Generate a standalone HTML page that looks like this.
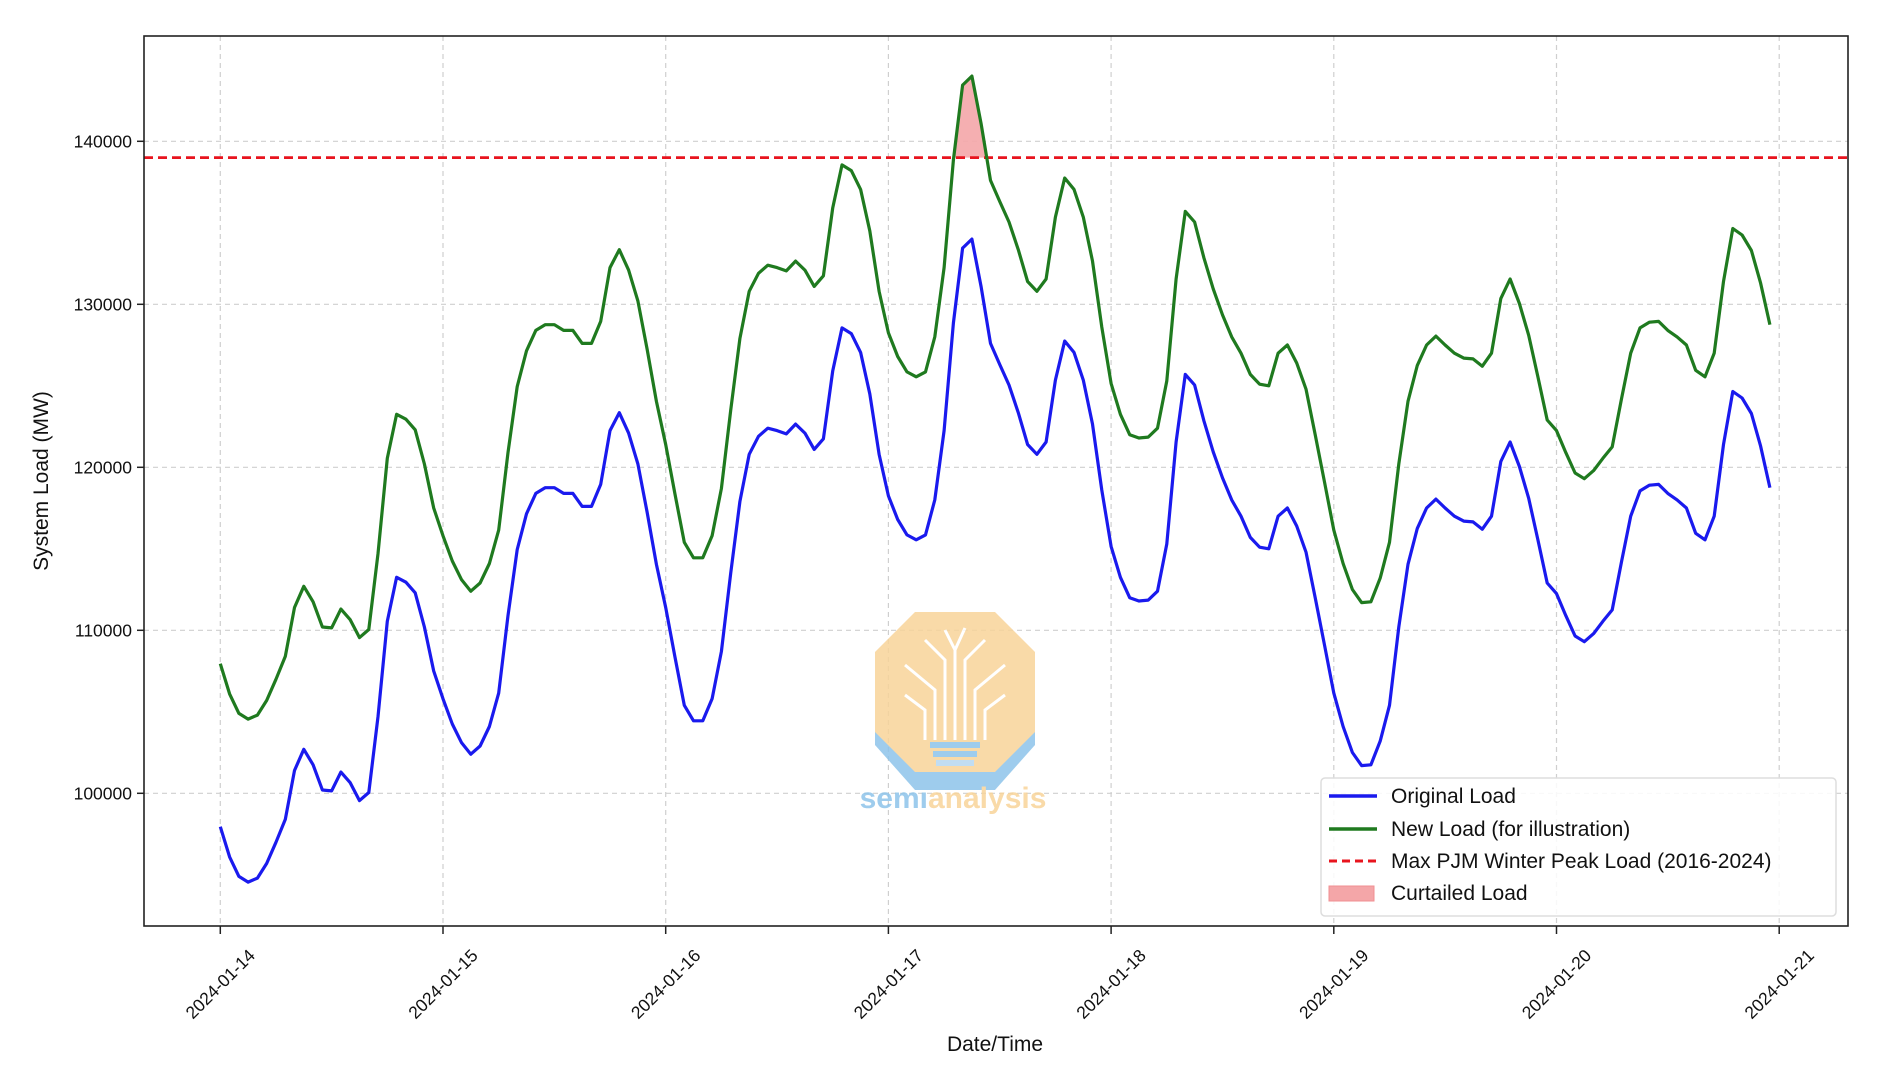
<!DOCTYPE html>
<html><head><meta charset="utf-8"><style>
html,body{margin:0;padding:0;background:#fff;}
svg{display:block;font-family:"Liberation Sans","DejaVu Sans",sans-serif;}
</style></head><body>
<svg id="chart" width="1877" height="1086" viewBox="0 0 1877 1086" xmlns="http://www.w3.org/2000/svg">
<rect width="1877" height="1086" fill="#fff"/>
<g id="grid"></g>
<g id="watermark" opacity="0.85">
  <polygon points="915,620 995,620 1035,665 1035,745 995,790 915,790 875,745 875,665" fill="#8ec4ea"/>
  <polygon points="915,612 995,612 1035,652 1035,732 995,772 915,772 875,732 875,652" fill="#f8d49a"/>
  <g stroke="#fff" stroke-width="3" fill="none">
    <path d="M955,740 V650 M945,740 V660 L925,640 M965,740 V660 L985,640 M935,740 V690 L905,665 M975,740 V690 L1005,665 M925,740 V710 L905,695 M985,740 V710 L1005,695 M955,650 L945,630 M955,650 L965,628"/>
  </g>
  <rect x="930" y="742" width="50" height="6" fill="#8ec4ea"/>
  <rect x="933" y="751" width="44" height="6" fill="#8ec4ea"/>
  <rect x="936" y="760" width="38" height="6" fill="#b7d8f0"/>
  <text x="953" y="808" text-anchor="middle" font-size="30" font-weight="bold"><tspan fill="#8ec4ea">semi</tspan><tspan fill="#f8d49a">analysis</tspan></text>
</g>
<g id="plot"></g>
<rect x="144" y="36" width="1704" height="890" fill="none" stroke="#222" stroke-width="1.6"/>
<g id="axes"></g>
<text x="995" y="1051" text-anchor="middle" font-size="21" fill="#111">Date/Time</text>
<text transform="translate(48,481) rotate(-90)" text-anchor="middle" font-size="21" fill="#111">System Load (MW)</text>
<g>
  <rect x="1321" y="778" width="515" height="138" rx="4" fill="#fff" fill-opacity="0.85" stroke="#ddd" stroke-width="1.5"/>
  <line x1="1329" y1="796" x2="1377" y2="796" stroke="#1a1aee" stroke-width="3.5"/>
  <text x="1391" y="803" font-size="21" fill="#111">Original Load</text>
  <line x1="1329" y1="829" x2="1377" y2="829" stroke="#1f7a1f" stroke-width="3.5"/>
  <text x="1391" y="836" font-size="21" fill="#111">New Load (for illustration)</text>
  <line x1="1329" y1="861" x2="1377" y2="861" stroke="#e8141e" stroke-width="3" stroke-dasharray="8,5"/>
  <text x="1391" y="868" font-size="21" fill="#111">Max PJM Winter Peak Load (2016-2024)</text>
  <rect x="1329" y="886" width="45" height="15" fill="#f4a6a8" stroke="#f08f92"/>
  <text x="1391" y="900" font-size="21" fill="#111">Curtailed Load</text>
</g>
</svg>
<script>
const dayLabels = ["2024-01-14","2024-01-15","2024-01-16","2024-01-17","2024-01-18","2024-01-19","2024-01-20","2024-01-21"];
const yTicks = [100000,110000,120000,130000,140000];
const maxPeak = 139000;
const originalLoad = [
97950,96100,94900,94550,94800,95700,97000,98400,101400,102700,101750,100200,100150,101300,100650,99550,100050,104700,110550,113250,112950,112300,110200,107500,
105800,104250,103100,102400,102900,104100,106150,110900,114950,117150,118400,118750,118750,118400,118400,117600,117600,118950,122250,123350,122100,120200,117250,114050,
111400,108350,105400,104450,104450,105800,108700,113500,117900,120800,121900,122400,122250,122050,122650,122100,121100,121750,125900,128550,128200,127050,124500,120800,
118250,116800,115850,115550,115850,118000,122250,128850,133450,134000,131050,127600,126300,125050,123350,121400,120800,121550,125350,127750,127050,125350,122650,118600,
115150,113250,112000,111800,111850,112400,115300,121550,125700,125050,122850,120950,119350,118000,117000,115700,115100,115000,117000,117500,116400,114800,112000,109100,
106150,104100,102500,101700,101750,103200,105400,110200,114050,116250,117500,118050,117500,117000,116700,116650,116200,117000,120350,121550,120050,118100,115550,112900,
112250,110900,109650,109300,109800,110550,111250,114200,117000,118550,118900,118950,118400,118000,117500,115950,115550,117000,121400,124650,124250,123300,121300,118750];
const newLoad = [
107950,106100,104900,104550,104800,105700,107000,108400,111400,112700,111750,110200,110150,111300,110650,109550,110050,114700,120550,123250,122950,122300,120200,117500,
115800,114250,113100,112400,112900,114100,116150,120900,124950,127150,128400,128750,128750,128400,128400,127600,127600,128950,132250,133350,132100,130200,127250,124050,
121400,118350,115400,114450,114450,115800,118700,123500,127900,130800,131900,132400,132250,132050,132650,132100,131100,131750,135900,138550,138200,137050,134500,130800,
128250,126800,125850,125550,125850,128000,132250,138850,143450,144000,141050,137600,136300,135050,133350,131400,130800,131550,135350,137750,137050,135350,132650,128600,
125150,123250,122000,121800,121850,122400,125300,131550,135700,135050,132850,130950,129350,128000,127000,125700,125100,125000,127000,127500,126400,124800,122000,119100,
116150,114100,112500,111700,111750,113200,115400,120200,124050,126250,127500,128050,127500,127000,126700,126650,126200,127000,130350,131550,130050,128100,125550,122900,
122250,120900,119650,119300,119800,120550,121250,124200,127000,128550,128900,128950,128400,128000,127500,125950,125550,127000,131400,134650,134250,133300,131300,128750];

const NS = "http://www.w3.org/2000/svg";
const X0 = 220.3, DAY = 222.7;
function xHour(h){ return X0 + h * DAY / 24; }
function xDay(d){ return X0 + d * DAY; }
function yVal(v){ return 141.3 + (140000 - v) * 0.0163; }
function mk(tag, attrs, parent){
  const e = document.createElementNS(NS, tag);
  for (const k in attrs) e.setAttribute(k, attrs[k]);
  parent.appendChild(e); return e;
}
const grid = document.getElementById('grid');
const plot = document.getElementById('plot');
const axes = document.getElementById('axes');

dayLabels.forEach((lab, i) => {
  const x = xDay(i);
  const g = mk('line', {x1:x, y1:36, x2:x, y2:926, stroke:'#cfcfcf', 'stroke-width':1.2, 'stroke-dasharray':'5,4'}, grid);
  
  
  const t = mk('line', {x1:x, y1:926, x2:x, y2:934, stroke:'#222', 'stroke-width':1.5}, axes);
  
  
  const cy = 984;
  const tx = mk('text', {x:x, y:cy+6, 'font-size':17.5, fill:'#111', 'text-anchor':'middle', transform:`rotate(-45 ${x} ${cy})`}, axes);
  tx.textContent = lab;
  
  
});
yTicks.forEach(v => {
  const y = yVal(v);
  const g = mk('line', {x1:144, y1:y, x2:1848, y2:y, stroke:'#cfcfcf', 'stroke-width':1.2, 'stroke-dasharray':'5,4'}, grid);
  
  
  const t = mk('line', {x1:137, y1:y, x2:144, y2:y, stroke:'#222', 'stroke-width':1.5}, axes);
  
  
  const tx = mk('text', {x:132, y:y+6, 'font-size':17.5, fill:'#111', 'text-anchor':'end'}, axes);
  tx.textContent = String(v);
  
  
});

// curtailed fill
let segs = [], cur = null;
for (let i = 0; i < newLoad.length; i++){
  const v = newLoad[i];
  if (v > maxPeak){
    if (!cur){
      cur = [];
      if (i > 0){ const p = newLoad[i-1]; const f = (maxPeak - p)/(v - p); cur.push([xHour(i-1+f), yVal(maxPeak)]); }
    }
    cur.push([xHour(i), yVal(v)]);
  } else if (cur){
    const p = newLoad[i-1]; const f = (maxPeak - p)/(v - p);
    cur.push([xHour(i-1+f), yVal(maxPeak)]);
    segs.push(cur); cur = null;
  }
}
if (cur) segs.push(cur);
segs.forEach(s => {
  const pts = s.map(p => p.join(',')).join(' ');
  const f = mk('polygon', {points:pts, fill:'#f4a6a8', 'fill-opacity':0.9}, plot);
  
  
});

const ml = mk('line', {x1:144, y1:yVal(maxPeak), x2:1848, y2:yVal(maxPeak), stroke:'#e8141e', 'stroke-width':2.8, 'stroke-dasharray':'9,5'}, plot);



function line(data, color, name){
  const d = data.map((v,i) => (i ? 'L' : 'M') + xHour(i).toFixed(1) + ',' + yVal(v).toFixed(1)).join(' ');
  const p = mk('path', {d:d, fill:'none', stroke:color, 'stroke-width':3.2, 'stroke-linejoin':'round'}, plot);
  
  
}
line(newLoad, '#1f7a1f', 'new-load-line');
line(originalLoad, '#1a1aee', 'original-load-line');
</script>
</body></html>
